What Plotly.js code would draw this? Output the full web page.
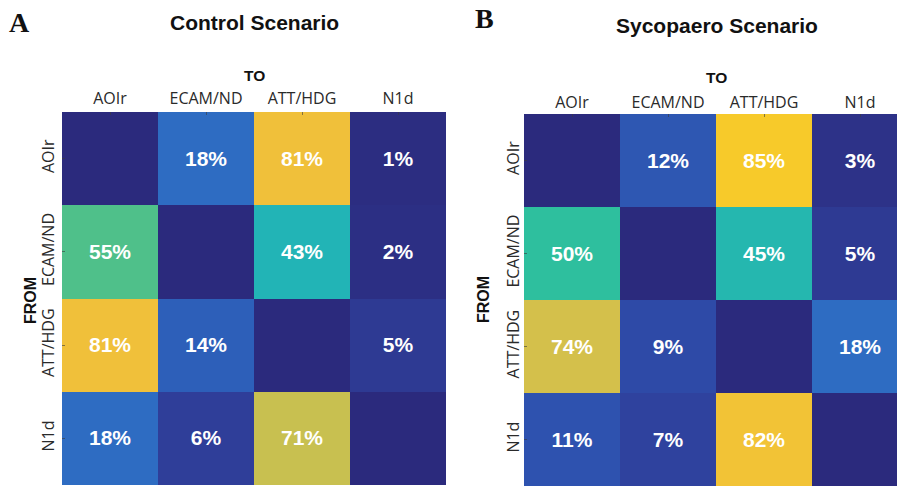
<!DOCTYPE html>
<html>
<head>
<meta charset="utf-8">
<script src="https://cdn.plot.ly/plotly-3.0.1.min.js"></script>
<style>html,body{margin:0;padding:0;background:#fff;}#chart{width:897px;height:486px;}</style>
</head>
<body>
<div id="chart"></div>
<script>
// Data
const categories = ['AOIr', 'ECAM/ND', 'ATT/HDG', 'N1d'];
const controlValues = [
  [0, 18, 81, 1],
  [55, 0, 43, 2],
  [81, 14, 0, 5],
  [18, 6, 71, 0]
];
const sycopaeroValues = [
  [0, 12, 85, 3],
  [50, 0, 45, 5],
  [74, 9, 0, 18],
  [11, 7, 82, 0]
];
const panelTitles = ['Control Scenario', 'Sycopaero Scenario'];
const panelLetters = ['A', 'B'];

// parula-like colour scale, tuned to the printed colours
const colorscale = [
  [0.00, '#2b2a7d'],
  [0.03, '#2d3288'],
  [0.06, '#2f3e99'],
  [0.10, '#2e4eab'],
  [0.14, '#2d5fb9'],
  [0.18, '#2e6cc2'],
  [0.30, '#1e92c6'],
  [0.43, '#22b4b6'],
  [0.50, '#2ebf9e'],
  [0.55, '#4fc08a'],
  [0.63, '#8fc06c'],
  [0.71, '#c8c050'],
  [0.76, '#dcc048'],
  [0.81, '#f0c03a'],
  [0.85, '#f7ca2a'],
  [1.00, '#f9f020']
];

function labels(vals) {
  return vals.map((row, i) => row.map((v, j) => i === j ? '' : v + '%'));
}

const traces = [controlValues, sycopaeroValues].map((vals, k) => ({
  type: 'heatmap',
  x: categories,
  y: categories,
  z: vals,
  text: labels(vals),
  texttemplate: '%{text}',
  textfont: {family: 'Liberation Sans, Arial, sans-serif', size: 21, color: '#ffffff', weight: 'bold'},
  colorscale: colorscale,
  zmin: 0, zmax: 100,
  showscale: false,
  hoverinfo: 'skip',
  xaxis: k === 0 ? 'x' : 'x2',
  yaxis: k === 0 ? 'y' : 'y2'
}));

const tickFont = {family: 'Open Sans, Noto Sans, sans-serif', size: 16, color: '#2a2a2a'};
function xax(domain, range, standoff) {
  return {domain: domain, side: 'top', range: range, tickfont: tickFont, ticks: 'inside', ticklen: 3,
    tickcolor: 'rgba(60,60,60,0.6)', showgrid: false, zeroline: false, showline: false,
    ticklabelstandoff: standoff, fixedrange: true};
}
function yax(domain, anchor, standoff) {
  return {domain: domain, anchor: anchor, autorange: 'reversed', tickangle: -90, tickfont: tickFont, ticks: 'inside', ticklen: 3,
    tickcolor: 'rgba(60,60,60,0.6)', showgrid: false, zeroline: false, showline: false,
    ticklabelstandoff: standoff, fixedrange: true};
}

function ann(list, font, extra) {
  return list.map(a => Object.assign({xref: 'paper', yref: 'paper', showarrow: false, xanchor: 'center', yanchor: 'middle', font: font},
    extra || {}, {text: a.text, x: a.x / 897, y: 1 - a.y / 486}));
}

const layout = {
  width: 897, height: 486,
  margin: {l: 0, r: 0, t: 0, b: 0},
  paper_bgcolor: '#fff', plot_bgcolor: '#fff',
  showlegend: false,
  xaxis: Object.assign(xax([62/897, 446/897], [-0.5, 3.5], 4), {anchor: 'y'}),
  yaxis: yax([0.002, 1 - 112/486], 'x', 4),
  xaxis2: Object.assign(xax([524/897, 1], [-0.5, 3.385], 2), {anchor: 'y2'}),
  yaxis2: yax([0, 1 - 114/486], 'x2', 1),
  annotations: []
    .concat(ann([{text: panelLetters[0], x: 19, y: 22}, {text: panelLetters[1], x: 484, y: 19}],
      {family: 'Liberation Serif, Times New Roman, serif', size: 28, color: '#111', weight: 'bold'}))
    .concat(ann([{text: panelTitles[0], x: 255, y: 23}, {text: panelTitles[1], x: 717, y: 26}],
      {family: 'Liberation Sans, Arial, sans-serif', size: 21, color: '#111', weight: 'bold'}))
    .concat(ann([{text: 'TO', x: 254, y: 76}, {text: 'TO', x: 716, y: 77}],
      {family: 'Liberation Sans, Arial, sans-serif', size: 15.5, color: '#111', weight: 'bold'}))
    .concat(ann([{text: 'FROM', x: 30, y: 301}, {text: 'FROM', x: 483, y: 300}],
      {family: 'Liberation Sans, Arial, sans-serif', size: 16, color: '#111', weight: 'bold'}, {textangle: -90}))
};

Plotly.newPlot('chart', traces, layout, {displayModeBar: false, staticPlot: true});
</script>
</body>
</html>
